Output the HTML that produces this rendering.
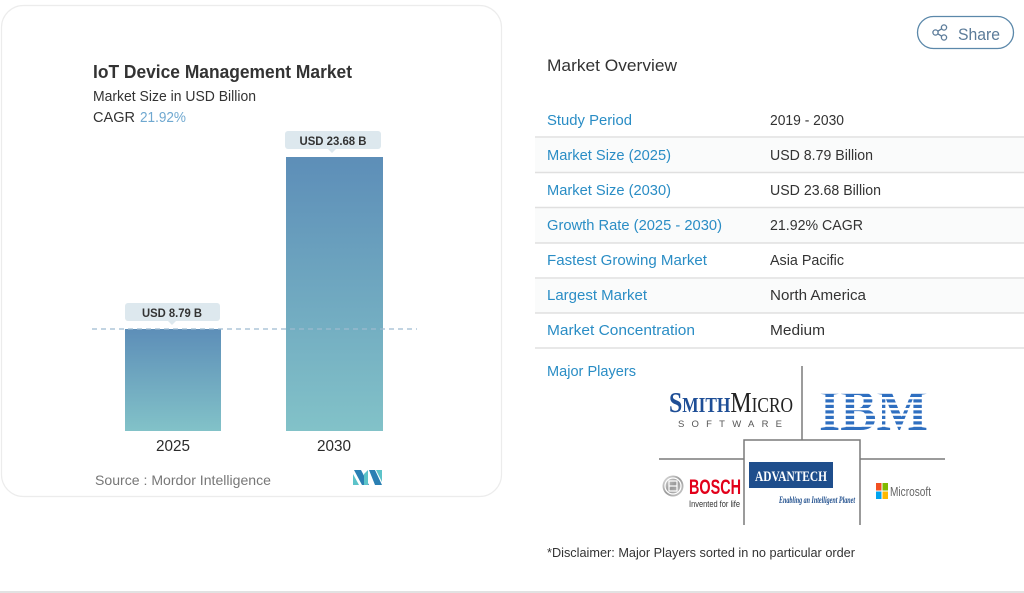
<!DOCTYPE html>
<html><head><meta charset="utf-8"><style>
html,body{margin:0;padding:0;background:#fff;}
svg{display:block;}
text{font-family:"Liberation Sans",Arial,sans-serif;}
text.serif{font-family:"Liberation Serif","DejaVu Serif",serif;}
</style></head><body>
<svg width="1024" height="593" viewBox="0 0 1024 593" xmlns="http://www.w3.org/2000/svg">
<defs>
<linearGradient id="g1" x1="0" y1="0" x2="0" y2="1">
<stop offset="0" stop-color="#5d8eb8"/><stop offset="1" stop-color="#82c2c8"/>
</linearGradient>
<linearGradient id="bg" x1="0" y1="0" x2="1" y2="1">
<stop offset="0" stop-color="#e6e6e6"/><stop offset="0.5" stop-color="#9a9a9a"/><stop offset="1" stop-color="#d0d0d0"/>
</linearGradient>
</defs>
<rect width="1024" height="593" fill="#fff"/>
<!-- card -->
<rect x="1.5" y="5.5" width="500" height="491" rx="22" fill="#fff" stroke="#ececec" stroke-width="1.2"/>
<text x="93" y="78" font-size="18" font-weight="bold" fill="#333" textLength="259" lengthAdjust="spacingAndGlyphs">IoT Device Management Market</text>
<text x="93" y="101" font-size="14.5" fill="#333" textLength="163" lengthAdjust="spacingAndGlyphs">Market Size in USD Billion</text>
<text x="93" y="122" font-size="14.5" fill="#333" textLength="42" lengthAdjust="spacingAndGlyphs">CAGR</text>
<text x="140" y="122" font-size="14.5" fill="#6fa8d0" textLength="46" lengthAdjust="spacingAndGlyphs">21.92%</text>
<!-- bars -->
<rect x="286" y="157" width="97" height="274" fill="url(#g1)"/>
<rect x="125" y="329" width="96" height="102" fill="url(#g1)"/>
<line x1="92" y1="329" x2="417" y2="329" stroke="#9dbbd0" stroke-width="1.3" stroke-dasharray="5,4"/>
<!-- labels -->
<rect x="285" y="131" width="96" height="18" rx="3" fill="#dde8ee"/>
<polygon points="328,149 336,149 332,153" fill="#dde8ee"/>
<text x="333" y="145" font-size="12" font-weight="bold" fill="#333" text-anchor="middle" textLength="67" lengthAdjust="spacingAndGlyphs">USD 23.68 B</text>
<rect x="125" y="303" width="95" height="18" rx="3" fill="#dde8ee"/>
<polygon points="168,321 176,321 172,325" fill="#dde8ee"/>
<text x="172" y="317" font-size="12" font-weight="bold" fill="#333" text-anchor="middle" textLength="60" lengthAdjust="spacingAndGlyphs">USD 8.79 B</text>
<text x="173" y="451" font-size="15.5" fill="#2b2b2b" text-anchor="middle" textLength="34" lengthAdjust="spacingAndGlyphs">2025</text>
<text x="334" y="451" font-size="15.5" fill="#2b2b2b" text-anchor="middle" textLength="34" lengthAdjust="spacingAndGlyphs">2030</text>
<text x="95" y="485" font-size="14" fill="#777" textLength="176" lengthAdjust="spacingAndGlyphs">Source :  Mordor Intelligence</text>
<!-- M logo -->
<polygon points="353,485 353,474 359,485" fill="#5cc3c9"/>
<polygon points="354,470 361,470 369,485 362,485" fill="#2a7fb3"/>
<polygon points="364,474 368,470 368,485 364,485" fill="#5cc3c9"/>
<polygon points="369,470 375,470 382,485 375,485" fill="#2a7fb3"/>
<polygon points="376,470 382,470 382,482" fill="#5cc3c9"/>
<!-- bottom line -->
<rect x="0" y="591" width="1024" height="2" fill="#e2e2e2"/>
<!-- share -->
<rect x="917.5" y="16.5" width="96" height="32" rx="16" fill="#fff" stroke="#5b88aa" stroke-width="1.3"/>
<g stroke="#5b7b99" stroke-width="1.3" fill="none">
<circle cx="944" cy="27.5" r="2.6"/><circle cx="935.5" cy="32.5" r="2.6"/><circle cx="944" cy="37.5" r="2.6"/>
<line x1="937.8" y1="31.2" x2="941.7" y2="28.8"/><line x1="937.8" y1="33.8" x2="941.7" y2="36.2"/>
</g>
<text x="958" y="40" font-size="17" fill="#5b7b99" textLength="42" lengthAdjust="spacingAndGlyphs">Share</text>
<!-- market overview -->
<text x="547" y="71" font-size="16.5" fill="#333" textLength="130" lengthAdjust="spacingAndGlyphs">Market Overview</text>
<g fill="#fafbfb">
<rect x="535" y="138" width="489" height="34"/><rect x="535" y="208" width="489" height="35"/><rect x="535" y="279" width="489" height="34"/>
</g>
<g stroke="#e0e0e0" stroke-width="1.5">
<line x1="535" y1="137" x2="1024" y2="137"/><line x1="535" y1="172.5" x2="1024" y2="172.5"/>
<line x1="535" y1="207.5" x2="1024" y2="207.5"/><line x1="535" y1="243" x2="1024" y2="243"/>
<line x1="535" y1="278" x2="1024" y2="278"/><line x1="535" y1="313" x2="1024" y2="313"/>
<line x1="535" y1="348" x2="1024" y2="348"/>
</g>
<g font-size="14.5" fill="#2a8dc5">
<text x="547" y="125" textLength="85" lengthAdjust="spacingAndGlyphs">Study Period</text>
<text x="547" y="160" textLength="124" lengthAdjust="spacingAndGlyphs">Market Size (2025)</text>
<text x="547" y="195" textLength="124" lengthAdjust="spacingAndGlyphs">Market Size (2030)</text>
<text x="547" y="230" textLength="175" lengthAdjust="spacingAndGlyphs">Growth Rate (2025 - 2030)</text>
<text x="547" y="265" textLength="160" lengthAdjust="spacingAndGlyphs">Fastest Growing Market</text>
<text x="547" y="300" textLength="100" lengthAdjust="spacingAndGlyphs">Largest Market</text>
<text x="547" y="335" textLength="148" lengthAdjust="spacingAndGlyphs">Market Concentration</text>
<text x="547" y="376" textLength="89" lengthAdjust="spacingAndGlyphs">Major Players</text>
</g>
<g font-size="14.5" fill="#333">
<text x="770" y="125" textLength="74" lengthAdjust="spacingAndGlyphs">2019 - 2030</text>
<text x="770" y="160" textLength="103" lengthAdjust="spacingAndGlyphs">USD 8.79 Billion</text>
<text x="770" y="195" textLength="111" lengthAdjust="spacingAndGlyphs">USD 23.68 Billion</text>
<text x="770" y="230" textLength="93" lengthAdjust="spacingAndGlyphs">21.92% CAGR</text>
<text x="770" y="265" textLength="74" lengthAdjust="spacingAndGlyphs">Asia Pacific</text>
<text x="770" y="300" textLength="96" lengthAdjust="spacingAndGlyphs">North America</text>
<text x="770" y="335" textLength="55" lengthAdjust="spacingAndGlyphs">Medium</text>
</g>
<!-- logos grid -->
<g stroke="#7a7a7a" stroke-width="1.5" fill="none">
<line x1="802" y1="366" x2="802" y2="440"/>
<line x1="659" y1="459" x2="744" y2="459"/><line x1="860" y1="459" x2="945" y2="459"/>
<polyline points="744,525 744,440 860,440 860,525"/>
</g>
<!-- SmithMicro -->
<text class="serif" x="669" y="412" textLength="124" lengthAdjust="spacingAndGlyphs"><tspan fill="#1e4e96" font-size="29" font-weight="bold">S</tspan><tspan fill="#1e4e96" font-size="21" font-weight="bold">MITH</tspan><tspan fill="#222" font-size="29">M</tspan><tspan fill="#222" font-size="21">ICRO</tspan></text>
<text x="678" y="427" font-size="9.5" fill="#555" textLength="104" lengthAdjust="spacing">SOFTWARE</text>
<!-- IBM -->
<text class="serif" x="819" y="430" font-size="58" font-weight="bold" fill="#2f6fc0" textLength="109" lengthAdjust="spacingAndGlyphs">IBM</text>
<g fill="#fff">
<rect x="815" y="391.5" width="118" height="2.3"/><rect x="815" y="397" width="118" height="2.3"/>
<rect x="815" y="402.5" width="118" height="2.3"/><rect x="815" y="408" width="118" height="2.3"/>
<rect x="815" y="413.5" width="118" height="2.3"/><rect x="815" y="419" width="118" height="2.3"/>
<rect x="815" y="424.5" width="118" height="2.3"/>
</g>
<!-- Bosch -->
<circle cx="673" cy="486" r="10.5" fill="url(#bg)"/>
<circle cx="673" cy="486" r="8" fill="none" stroke="#fff" stroke-width="1.3"/>
<rect x="669" y="481" width="8" height="10" fill="none" stroke="#fff" stroke-width="1.2"/>
<line x1="669" y1="486" x2="677" y2="486" stroke="#fff" stroke-width="1.2"/>
<text x="689" y="494" font-size="21" font-weight="bold" fill="#e2001a" textLength="52" lengthAdjust="spacingAndGlyphs">BOSCH</text>
<text x="689" y="507" font-size="9" fill="#333" textLength="51" lengthAdjust="spacingAndGlyphs">Invented for life</text>
<!-- Advantech -->
<rect x="749" y="462" width="84" height="26" fill="#1f4e8c"/>
<text class="serif" x="791" y="481" font-size="15" font-weight="bold" fill="#fff" text-anchor="middle" textLength="72" lengthAdjust="spacingAndGlyphs">ADVANTECH</text>
<text class="serif" x="779" y="503" font-size="9" font-style="italic" font-weight="bold" fill="#1f4e8c" textLength="76" lengthAdjust="spacingAndGlyphs">Enabling an Intelligent Planet</text>
<!-- Microsoft -->
<rect x="876" y="483" width="5.5" height="7.5" fill="#f25022"/><rect x="882.5" y="483" width="5.5" height="7.5" fill="#7fba00"/>
<rect x="876" y="491.5" width="5.5" height="7.5" fill="#00a4ef"/><rect x="882.5" y="491.5" width="5.5" height="7.5" fill="#ffb900"/>
<text x="890" y="496" font-size="12.5" fill="#666" textLength="41" lengthAdjust="spacingAndGlyphs">Microsoft</text>
<!-- disclaimer -->
<text x="547" y="557" font-size="13" fill="#333" textLength="308" lengthAdjust="spacingAndGlyphs">*Disclaimer: Major Players sorted in no particular order</text>
</svg>
</body></html>
